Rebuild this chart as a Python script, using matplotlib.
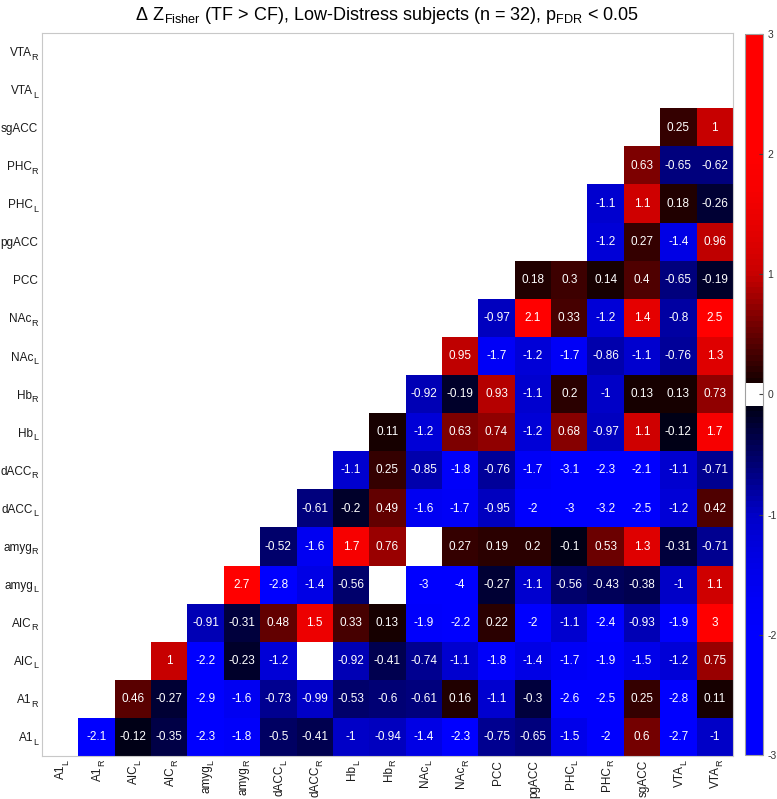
import numpy as np
import matplotlib
matplotlib.use('Agg')
import matplotlib.pyplot as plt
from matplotlib.colors import ListedColormap, BoundaryNorm
from matplotlib.font_manager import FontProperties
from matplotlib.transforms import offset_copy

plt.rcParams['font.family'] = ['Liberation Sans', 'DejaVu Sans']
plt.rcParams['mathtext.fontset'] = 'custom'
plt.rcParams['mathtext.rm'] = 'Liberation Sans'

# region names (base, subscript)
regions = [('A1', 'L'), ('A1', 'R'), ('AIC', 'L'), ('AIC', 'R'), ('amyg', 'L'), ('amyg', 'R'),
           ('dACC', 'L'), ('dACC', 'R'), ('Hb', 'L'), ('Hb', 'R'), ('NAc', 'L'), ('NAc', 'R'),
           ('PCC', ''), ('pgACC', ''), ('PHC', 'L'), ('PHC', 'R'), ('sgACC', ''), ('VTA', 'L'), ('VTA', 'R')]

nan = np.nan
# each row holds the values right of the diagonal (columns i+1 .. end)
row_A1L = [-2.1, -0.12, -0.35, -2.3, -1.8, -0.5, -0.41, -1, -0.94, -1.4, -2.3, -0.75, -0.65, -1.5, -2, 0.6, -2.7, -1]
row_A1R = [0.46, -0.27, -2.9, -1.6, -0.73, -0.99, -0.53, -0.6, -0.61, 0.16, -1.1, -0.3, -2.6, -2.5, 0.25, -2.8, 0.11]
row_AICL = [1, -2.2, -0.23, -1.2, nan, -0.92, -0.41, -0.74, -1.1, -1.8, -1.4, -1.7, -1.9, -1.5, -1.2, 0.75]
row_AICR = [-0.91, -0.31, 0.48, 1.5, 0.33, 0.13, -1.9, -2.2, 0.22, -2, -1.1, -2.4, -0.93, -1.9, 3]
row_amygL = [2.7, -2.8, -1.4, -0.56, nan, -3, -4, -0.27, -1.1, -0.56, -0.43, -0.38, -1, 1.1]
row_amygR = [-0.52, -1.6, 1.7, 0.76, nan, 0.27, 0.19, 0.2, -0.1, 0.53, 1.3, -0.31, -0.71]
row_dACCL = [-0.61, -0.2, 0.49, -1.6, -1.7, -0.95, -2, -3, -3.2, -2.5, -1.2, 0.42]
row_dACCR = [-1.1, 0.25, -0.85, -1.8, -0.76, -1.7, -3.1, -2.3, -2.1, -1.1, -0.71]
row_HbL = [0.11, -1.2, 0.63, 0.74, -1.2, 0.68, -0.97, 1.1, -0.12, 1.7]
row_HbR = [-0.92, -0.19, 0.93, -1.1, 0.2, -1, 0.13, 0.13, 0.73]
row_NAcL = [0.95, -1.7, -1.2, -1.7, -0.86, -1.1, -0.76, 1.3]
row_NAcR = [-0.97, 2.1, 0.33, -1.2, 1.4, -0.8, 2.5]
row_PCC = [0.18, 0.3, 0.14, 0.4, -0.65, -0.19]
row_pgACC = [nan, -1.2, 0.27, -1.4, 0.96]
row_PHCL = [-1.1, 1.1, 0.18, -0.26]
row_PHCR = [0.63, -0.65, -0.62]
row_sgACC = [0.25, 1]
row_VTAL = [nan]

rows = [row_A1L, row_A1R, row_AICL, row_AICR, row_amygL, row_amygR, row_dACCL, row_dACCR,
        row_HbL, row_HbR, row_NAcL, row_NAcR, row_PCC, row_pgACC, row_PHCL, row_PHCR,
        row_sgACC, row_VTAL]

n = len(regions)
M = np.full((n, n), np.nan)
for i, r in enumerate(rows):
    M[i, i + 1:] = r

# red/blue colormap with a white band around zero
ncol = 128
edges = np.linspace(-3, 3, ncol + 1)
centers = (edges[:-1] + edges[1:]) / 2
anch_v = [0.094, 0.25, 0.63, 1.0, 1.3, 1.7, 2.0, 3.0]
anch_c = [0.07, 0.2, 0.49, 0.78, 0.88, 0.97, 1.0, 1.0]
cols = []
for c in centers:
    if abs(c) < 0.094:
        cols.append((1, 1, 1))
    else:
        k = np.interp(abs(c), anch_v, anch_c)
        cols.append((k, 0, 0) if c > 0 else (0, 0, k))
cmap = ListedColormap(cols)
cmap.set_bad('white')
norm = BoundaryNorm(edges, ncol, clip=True)

fig = plt.figure(figsize=(7.77, 7.99), dpi=100)
ax = fig.add_axes([0.054, 0.054, 0.8893, 0.9049])
im = ax.imshow(np.clip(M, -3, 3), cmap=cmap, norm=norm, origin='lower', aspect='auto',
               extent=[-0.5, n - 0.5, -0.5, n - 0.5], interpolation='nearest')

for i in range(n):
    for j in range(n):
        if not np.isnan(M[i, j]):
            ax.text(j, i, '%.2g' % M[i, j], ha='center', va='center', color='white', fontsize=8.5)

ax.set_xticks([])
ax.set_yticks([])
for s in ax.spines.values():
    s.set_color('#c8c8c8')

# tick labels with subscripts, built from two texts each
renderer = fig.canvas.get_renderer()
base_fs, sub_fs = 8.5, 6.5
cap = 0.72 * base_fs * fig.dpi / 72
drop, pad = 3.5, 4
lab_col = '#1a1a1a'

def text_w(s, size):
    w, h, d = renderer.get_text_width_height_descent(s, FontProperties(family='Liberation Sans', size=size), ismath=False)
    return w

for i, (b, s) in enumerate(regions):
    sw = text_w(s, sub_fs) - 0.3 if s else 0
    # y axis
    tb = offset_copy(ax.get_yaxis_transform(), fig=fig, x=-(pad + sw), y=-cap / 2, units='dots')
    ax.text(0, i, b, transform=tb, ha='right', va='baseline', fontsize=base_fs, color=lab_col)
    if s:
        ts = offset_copy(ax.get_yaxis_transform(), fig=fig, x=-pad, y=-cap / 2 - drop, units='dots')
        ax.text(0, i, s, transform=ts, ha='right', va='baseline', fontsize=sub_fs, color=lab_col)
    # x axis
    tb = offset_copy(ax.get_xaxis_transform(), fig=fig, x=cap / 2, y=-(pad + sw), units='dots')
    ax.text(i, 0, b, transform=tb, rotation=90, rotation_mode='anchor', ha='right', va='baseline',
            fontsize=base_fs, color=lab_col)
    if s:
        ts = offset_copy(ax.get_xaxis_transform(), fig=fig, x=cap / 2 + drop, y=-pad, units='dots')
        ax.text(i, 0, s, transform=ts, rotation=90, rotation_mode='anchor', ha='right', va='baseline',
                fontsize=sub_fs, color=lab_col)

ax.set_title('$\\Delta\\ \\mathrm{Z}_{\\mathrm{Fisher}}$ (TF > CF), Low-Distress subjects (n = 32), '
             '$\\mathrm{p}_{\\mathrm{FDR}}$ < 0.05', fontsize=13, pad=9)

cax = fig.add_axes([0.9588, 0.0551, 0.0232, 0.9024])
cb = fig.colorbar(im, cax=cax, ticks=[-3, -2, -1, 0, 1, 2, 3])
cb.outline.set_edgecolor('#a0a0a0')
cax.minorticks_off()
cax.tick_params(direction='in', length=3, color='#404040', labelsize=7.5, pad=3, labelcolor='#333333')
cax.set_yticklabels(['-3', '-2', '-1', '0', '1', '2', '3'])

fig.savefig('out.png', dpi=100)
